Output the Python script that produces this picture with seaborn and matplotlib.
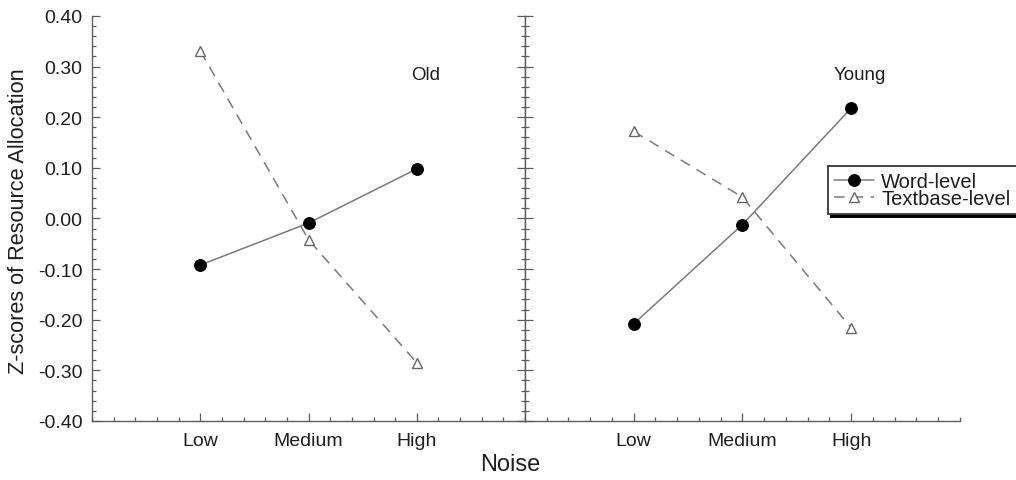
import numpy as np
import pandas as pd
import matplotlib
matplotlib.use("Agg")
import matplotlib.pyplot as plt
from matplotlib.ticker import MultipleLocator, FixedLocator
import seaborn as sns

# Noise conditions and z-scores per age group
noise_levels = ["Low", "Medium", "High"]
old_word = [-0.092, -0.009, 0.098]
old_textbase = [0.331, -0.042, -0.285]
young_word = [-0.208, -0.012, 0.218]
young_textbase = [0.172, 0.042, -0.216]
y_ticks = [-0.40, -0.30, -0.20, -0.10, 0.00, 0.10, 0.20, 0.30, 0.40]

sns.set_style("ticks")
plt.rcParams["font.family"] = ["Liberation Sans", "DejaVu Sans"]

axis_col = "#5c5c5c"
line_col = "#7a7a7a"
text_col = "#1e1e1e"

positions = np.arange(1, len(noise_levels) + 1)

fig = plt.figure(figsize=(10.16, 4.81), dpi=100)
ax1 = fig.add_axes([0.0906, 0.1227, 0.4262, 0.842])
ax2 = fig.add_axes([0.5167, 0.1227, 0.4281, 0.842], sharey=ax1)


def draw_panel(ax, word, textbase, title):
    df_w = pd.DataFrame({"x": positions, "y": word})
    df_t = pd.DataFrame({"x": positions, "y": textbase})
    sns.lineplot(data=df_w, x="x", y="y", ax=ax, color=line_col, lw=1.1,
                 marker="o", markersize=8.5, markerfacecolor="black",
                 markeredgecolor="black", label="Word-level", legend=False)
    sns.lineplot(data=df_t, x="x", y="y", ax=ax, color=line_col, lw=1.1,
                 dashes=(7, 5), marker="^", markersize=6.5,
                 markerfacecolor="white", markeredgecolor="#666666",
                 markeredgewidth=1.0, label="Textbase-level", legend=False)
    ax.set_xlim(0, 4)
    ax.set_ylim(-0.40, 0.40)
    ax.set_xticks(positions)
    ax.set_xticklabels(noise_levels)
    ax.xaxis.set_minor_locator(MultipleLocator(0.2))
    ax.yaxis.set_major_locator(FixedLocator(y_ticks))
    ax.yaxis.set_minor_locator(MultipleLocator(0.02))
    ax.set_xlabel("")
    ax.set_ylabel("")
    ax.spines["top"].set_visible(False)
    for s in ax.spines.values():
        s.set_color(axis_col)
        s.set_linewidth(1.0)
    ax.tick_params(axis="both", which="both", direction="in", colors=axis_col,
                   labelcolor=text_col, width=0.9)
    ax.tick_params(axis="both", which="major", length=6)
    ax.tick_params(axis="both", which="minor", length=3)
    ax.tick_params(axis="x", labelsize=14, pad=8)
    ax.text(3.08, 0.285, title, fontsize=13.5, color=text_col,
            ha="center", va="center")


draw_panel(ax1, old_word, old_textbase, "Old")
draw_panel(ax2, young_word, young_textbase, "Young")

ax1.tick_params(axis="y", which="both", left=True, right=True,
                labelleft=True, labelright=False, labelsize=14, pad=7)
ax1.set_yticklabels([f"{v:.2f}" for v in y_ticks])
ax2.tick_params(axis="y", which="both", left=True, right=False,
                labelleft=False)
ax2.spines["right"].set_visible(False)

fig.text(0.018, 0.54, "Z-scores of Resource Allocation", rotation=90,
         fontsize=15.7, color=text_col, ha="center", va="center")
fig.text(0.502, 0.033, "Noise", fontsize=17, color=text_col,
         ha="center", va="center")

handles, labels = ax2.get_legend_handles_labels()
leg = fig.legend(handles, labels, loc="upper left",
                 bbox_to_anchor=(828 / 1016, 1 - 167 / 481),
                 bbox_transform=fig.transFigure, fontsize=14.5,
                 frameon=True, fancybox=False,
                 shadow={"color": "black", "alpha": 1.0},
                 framealpha=1.0, borderpad=0.3, labelspacing=-0.08,
                 handlelength=2.0, handletextpad=0.35, borderaxespad=0)
leg.get_frame().set_edgecolor("#444444")
leg.get_frame().set_linewidth(1.4)
for t in leg.get_texts():
    t.set_color(text_col)

fig.savefig("out.png", dpi=100)
